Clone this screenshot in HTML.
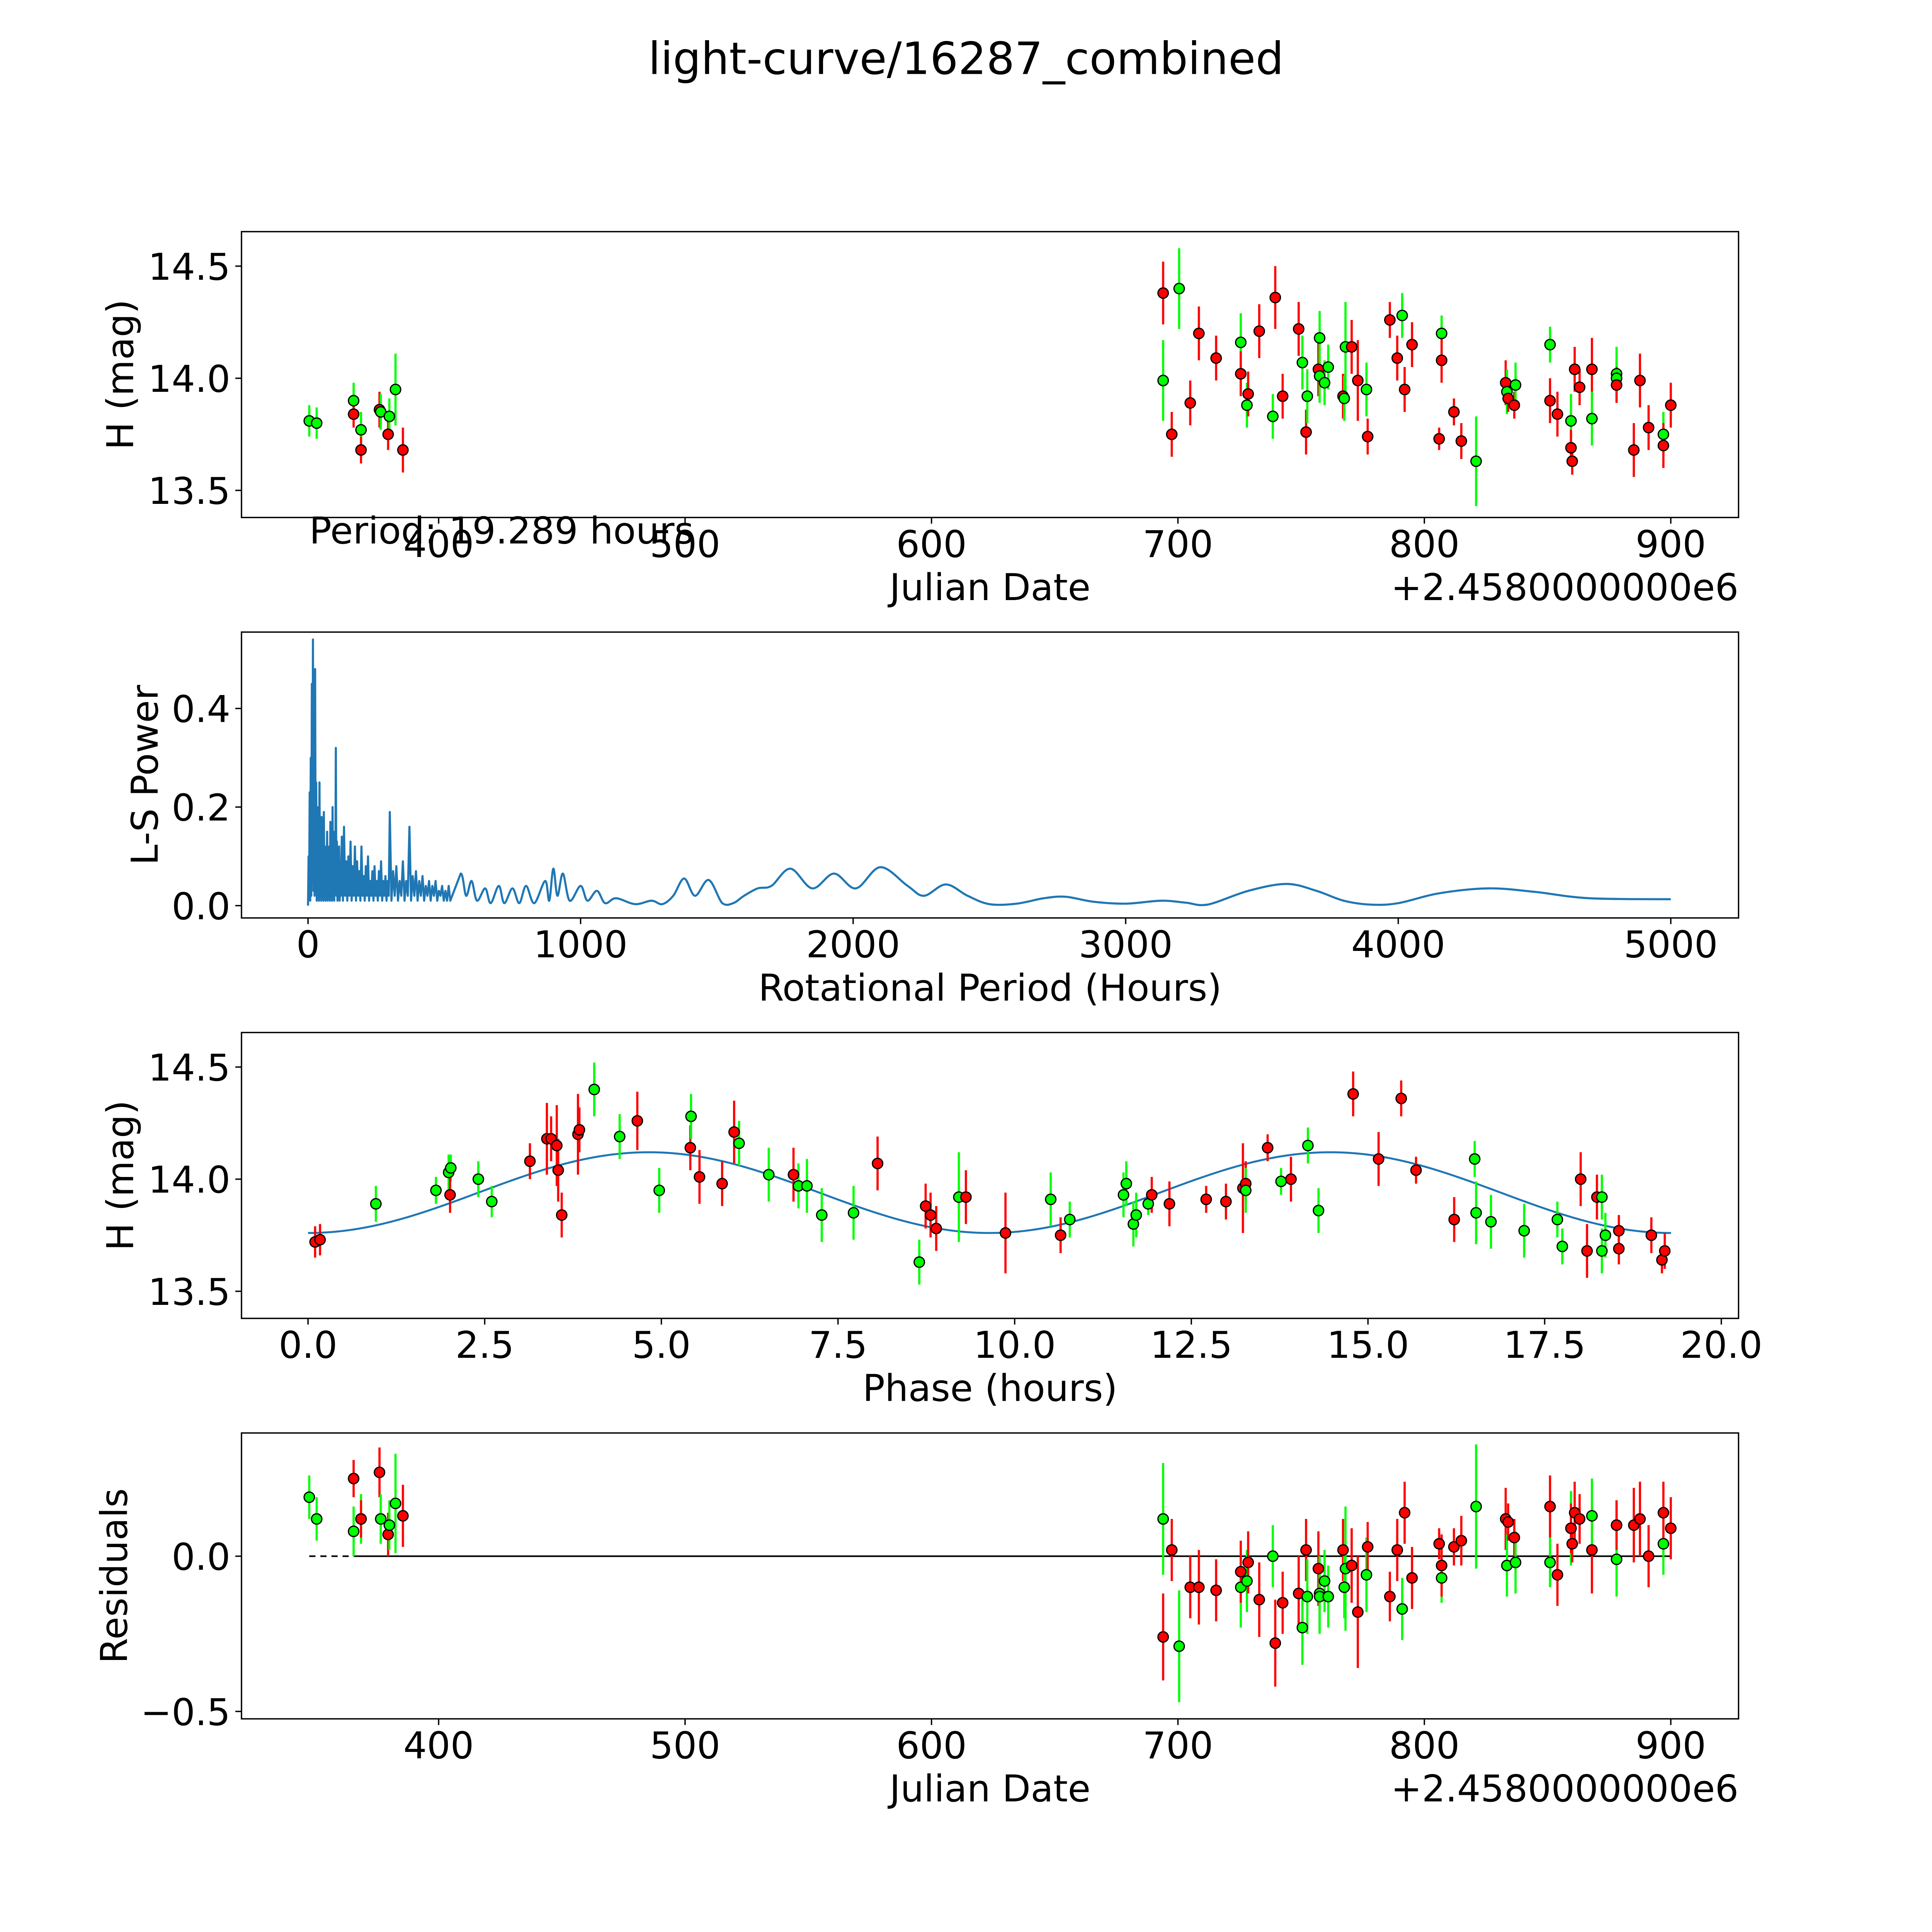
<!DOCTYPE html>
<html><head><meta charset="utf-8">
<style>html,body{margin:0;padding:0;background:#fff;overflow:hidden;width:100vw;height:100vh}svg{display:block;width:100vw;height:100vh}text{font-family:"DejaVu Sans","Liberation Sans",sans-serif;fill:#000}</style>
</head><body>
<svg id="fig" xmlns="http://www.w3.org/2000/svg" viewBox="0 0 1568 1568" preserveAspectRatio="xMidYMid meet">
<rect width="1568" height="1568" fill="#fff"/>
</svg>
<script>
// ---- data ----
const obsDates=[347.5,350.5,365.5,365.5,368.5,368.5,376,376.5,379.5,380,382.5,385.5,694,694,697.5,700.5,705,708.5,715.5,725.5,725.5,728,728.5,733,738.5,739.5,742.5,749,750.5,752,752.5,757,757.5,757.5,759.5,761,767,767.5,768,770.5,773,776.5,777,786,789,791,792,795,806,807,807,812,815,821,833,833.5,834,836.5,837,851,851,854,859.5,859.5,860,861,863,868,868,878,878,878,885,887.5,891,897,897,900];
const obsMags=[13.81,13.80,13.90,13.84,13.77,13.68,13.86,13.85,13.75,13.83,13.95,13.68,13.99,14.38,13.75,14.40,13.89,14.20,14.09,14.16,14.02,13.88,13.93,14.21,13.83,14.36,13.92,14.22,14.07,13.76,13.92,14.04,14.18,14.01,13.98,14.05,13.92,13.91,14.14,14.14,13.99,13.95,13.74,14.26,14.09,14.28,13.95,14.15,13.73,14.20,14.08,13.85,13.72,13.63,13.98,13.94,13.91,13.88,13.97,14.15,13.90,13.84,13.81,13.69,13.63,14.04,13.96,14.04,13.82,14.02,14.00,13.97,13.68,13.99,13.78,13.75,13.70,13.88];
const obsErrs=[.07,.07,.08,.06,.08,.06,.08,.08,.07,.08,.16,.1,.18,.14,.1,.18,.1,.12,.1,.13,.1,.1,.1,.12,.1,.14,.1,.12,.12,.1,.12,.12,.12,.12,.1,.1,.1,.1,.2,.12,.18,.12,.08,.08,.1,.1,.1,.1,.05,.08,.1,.06,.08,.2,.1,.1,.06,.06,.1,.08,.1,.1,.12,.08,.06,.1,.08,.14,.12,.12,.08,.08,.12,.12,.1,.1,.1,.1];
const obsColors="gggrgrrgrggrgrrgrrrgrgrrgrrrgrgrggggrggrrgrrrgrrrgrrrgrgrrggrrgrrrrrgggrrrrgrr".split("");
const residuals=[.19,.12,.08,.25,.12,.12,.27,.12,.07,.10,.17,.13,.12,-.26,.02,-.29,-.10,-.10,-.11,-.10,-.05,-.08,-.02,-.14,0,-.28,-.15,-.12,-.23,.02,-.13,-.04,-.12,-.13,-.08,-.13,.02,-.10,-.04,-.03,-.18,-.06,.03,-.13,.02,-.17,.14,-.07,.04,-.07,-.03,.03,.05,.16,.12,-.03,.11,.06,-.02,-.02,.16,-.06,.09,.09,.04,.14,.12,.02,.13,-.01,.10,.10,.10,.12,0,.04,.14,.09];
const phaseVals=[0.10,0.17,0.96,1.81,1.99,2.02,2.01,2.41,2.60,3.14,3.38,3.44,3.52,3.54,3.59,3.82,3.84,4.05,4.41,4.66,4.97,5.41,5.42,5.54,5.86,6.03,6.10,6.52,6.87,6.94,7.06,7.27,7.72,8.06,8.65,8.74,8.81,8.89,9.21,9.31,9.87,10.51,10.65,10.78,11.54,11.58,11.68,11.72,11.89,11.94,12.19,12.71,12.99,13.23,13.27,13.27,13.58,13.77,13.91,14.15,14.30,14.79,15.15,15.47,15.68,16.22,16.51,16.53,16.74,17.21,17.68,17.75,18.01,18.10,18.24,18.31,18.31,18.36,18.55,18.55,19.01,19.16,19.20];
const phaseMags=[13.72,13.73,13.89,13.95,14.03,14.05,13.93,14.00,13.90,14.08,14.18,14.18,14.15,14.04,13.84,14.20,14.22,14.40,14.19,14.26,13.95,14.14,14.28,14.01,13.98,14.21,14.16,14.02,14.02,13.97,13.97,13.84,13.85,14.07,13.63,13.88,13.84,13.78,13.92,13.92,13.76,13.91,13.75,13.82,13.93,13.98,13.80,13.84,13.89,13.93,13.89,13.91,13.90,13.96,13.98,13.95,14.14,13.99,14.00,14.15,13.86,14.38,14.09,14.36,14.04,13.82,14.09,13.85,13.81,13.77,13.82,13.70,14.00,13.68,13.92,13.92,13.68,13.75,13.77,13.69,13.75,13.64,13.68];
const phaseColors="rrggggrggrrrrrrrrggrgrgrrrggrggggrgrrrgrrgrggggggrrrrrrgrgrggrrrrrggggggrrrgggrrrrrr".split("");
const phaseErrs=phaseVals.map((_,i)=>obsErrs[i%obsErrs.length]);
const lsPeriods=[0,2,4,6,8,10,12,14,16,18,20,22,24,26,28,30,32,34,36,38,40,42,44,46,48,50,52,54,56,58,60,62,64,66,68,70,72,74,76,78,80,82,84,86,88,90,92,94,96,98,100,102,104,106,108,110,112,114,116,118,120,
124,128,132,136,140,144,148,152,156,160,164,168,172,176,180,184,188,192,196,200,204,208,212,216,220,224,228,232,236,240,244,248,252,256,260,264,268,272,276,280,284,288,292,296,300,
306,312,318,324,330,336,342,348,354,360,366,372,378,384,390,396,402,408,414,420,426,432,438,444,450,456,462,468,474,480,486,492,498,504,510,516,522,
560,580,600,620,650,670,700,720,750,775,800,830,870,885,900,915,935,960,1000,1025,1060,1090,1130,1200,1260,1300,1340,1380,1420,1470,1520,1560,1600,1650,1700,1770,1850,1930,2010,2100,2200,2260,2340,2420,2500,2600,2700,2780,2880,3000,3130,3220,3300,3450,3590,3700,3800,3900,4000,4150,4330,4500,4700,5000];
const lsPower=[0,0.1,0.02,0.23,0.01,0.3,0.02,0.45,0.05,0.54,0.03,0.2,0.02,0.48,0.03,0.25,0.01,0.2,0.02,0.15,0.01,0.25,0.02,0.12,0.01,0.18,0.02,0.1,0.01,0.19,0.02,0.12,0.01,0.1,0.02,0.15,0.01,0.08,0.02,0.12,0.01,0.17,0.02,0.1,0.01,0.2,0.02,0.12,0.01,0.15,0.03,0.32,0.02,0.13,0.01,0.09,0.02,0.12,0.01,0.08,0.02,
0.14,0.01,0.16,0.02,0.09,0.01,0.1,0.02,0.13,0.01,0.08,0.02,0.12,0.01,0.09,0.02,0.07,0.01,0.12,0.02,0.06,0.01,0.08,0.02,0.1,0.01,0.05,0.02,0.07,0.01,0.08,0.02,0.05,0.01,0.07,0.02,0.09,0.01,0.05,0.02,0.06,0.01,0.05,0.02,0.19,
0.01,0.07,0.02,0.08,0.01,0.05,0.02,0.09,0.01,0.05,0.02,0.16,0.01,0.06,0.02,0.07,0.01,0.05,0.02,0.06,0.01,0.04,0.02,0.05,0.01,0.04,0.02,0.05,0.01,0.03,0.02,0.04,0.01,0.03,0.01,0.04,0.01,
0.065,0.02,0.05,0.01,0.035,0.005,0.04,0.005,0.035,0.005,0.04,0.005,0.05,0.01,0.075,0.02,0.065,0.01,0.04,0.01,0.03,0.005,0.015,0.003,0.01,0.003,0.02,0.055,0.02,0.052,0.005,0.005,0.02,0.035,0.04,0.075,0.035,0.065,0.035,0.078,0.04,0.02,0.043,0.02,0.003,0.004,0.015,0.018,0.008,0.004,0.01,0.006,0.002,0.03,0.044,0.03,0.01,0.002,0.005,0.025,0.035,0.028,0.015,0.013];
const modelMean=[13.94], modelAmp=[0.18], modelPeriod=[19.289];
const jdTicks=[400,500,600,700,800,900];
const magTicks=[13.5,14.0,14.5];
const lsXTicks=[0,1000,2000,3000,4000,5000];
const lsYTicks=[0.0,0.2,0.4];
const phaseTicks=[0,2.5,5,7.5,10,12.5,15,17.5,20];
const resTicks=[-0.5,0.0];

const svg=document.getElementById('fig');
const NS='http://www.w3.org/2000/svg';
function mk(tag,attrs,parent){const e=document.createElementNS(NS,tag);for(const k in attrs)e.setAttribute(k,attrs[k]);(parent||svg).appendChild(e);return e;}
function txt(s,x,y,size,anchor,parent){const t=mk('text',{x:x,y:y,'font-size':size,'text-anchor':anchor||'middle'},parent);t.textContent=s;return t;}
function lin(d0,d1,p0,p1){return v=>p0+(v-d0)*(p1-p0)/(d1-d0);}
const FS=30;

const title=txt('light-curve/16287_combined',784,60,36);



function axes(name,L,T,R,B,sx,sy,xt,yt,xfmt,yfmt,xlabel,ylabel,ylx){
  const g=mk('g',{});
  
  
  const fr=mk('rect',{x:L,y:T,width:R-L,height:B-T,fill:'none',stroke:'#000','stroke-width':1.1},g);
  
  
  xt.forEach(v=>{const x=sx(v);mk('line',{x1:x,x2:x,y1:B,y2:B+5,stroke:'#000','stroke-width':1.1},g);
    const t=txt(xfmt(v),x,B+32,FS,'middle',g);
    
    });
  yt.forEach(v=>{const y=sy(v);mk('line',{x1:L-5,x2:L,y1:y,y2:y,stroke:'#000','stroke-width':1.1},g);
    const t=txt(yfmt(v),L-9,y+11,FS,'end',g);
    
    });
  const xl=txt(xlabel,(L+R)/2,B+67,FS,'middle',g);
  
  
  const yl=txt(ylabel,0,0,FS,'middle',g);
  yl.setAttribute('transform',`translate(${ylx},${(T+B)/2}) rotate(-90)`);
  
  
  return g;
}
function points(g,xs,ys,errs,cols,sx,sy){
  xs.forEach((xv,i)=>{const c=cols[i]==='g'?'#00ff00':'#ff0000';const x=sx(xv);
    const eb=mk('line',{x1:x,x2:x,y1:sy(ys[i]-errs[i]),y2:sy(ys[i]+errs[i]),stroke:c,'stroke-width':1.8},g);
    
    });
  xs.forEach((xv,i)=>{const c=cols[i]==='g'?'#00ff00':'#ff0000';
    const p=mk('circle',{cx:sx(xv),cy:sy(ys[i]),r:4.2,fill:c,stroke:'#000','stroke-width':1},g);
    
    });
}
const f1=v=>v.toFixed(1), f0=v=>String(v);

// panel 1
const sx1=lin(400,900,356,1356), sy1=lin(14.0,14.5,307,216);
const g1=axes('light-curve-panel',196,188,1411,420,sx1,sy1,jdTicks,magTicks,f0,f1,'Julian Date','H (mag)',108);
points(g1,obsDates,obsMags,obsErrs,obsColors,sx1,sy1);
const per=txt('Period: 19.289 hours',251,441,FS,'start');


const off1=txt('+2.4580000000e6',1411,487,FS,'end');



// panel 2
const sx2=lin(0,5000,250,1356), sy2=lin(0,0.4,735,575);
const g2=axes('periodogram-panel',196,513,1411,745,sx2,sy2,lsXTicks,lsYTicks,f0,f1,'Rotational Period (Hours)','L-S Power',128);
const P=lsPeriods.map((p,i)=>[sx2(p),sy2(lsPower[i])]);
let d='M'+P[0][0]+','+P[0][1];
for(let i=0;i<P.length-1;i++){const p0=P[Math.max(0,i-1)],p1=P[i],p2=P[i+1],p3=P[Math.min(P.length-1,i+2)];
  if(lsPeriods[i]<540){d+=' L'+p2[0]+','+p2[1];continue;}
  const c1=[p1[0]+(p2[0]-p0[0])/6,p1[1]+(p2[1]-p0[1])/6],c2=[p2[0]-(p3[0]-p1[0])/6,p2[1]-(p3[1]-p1[1])/6];
  d+=` C${c1[0]},${Math.min(c1[1],735.5)} ${c2[0]},${Math.min(c2[1],735.5)} ${p2[0]},${p2[1]}`;}
const ls=mk('path',{d:d,fill:'none',stroke:'#1f77b4','stroke-width':1.7,'stroke-linejoin':'round'},g2);



// panel 3
const sx3=lin(0,20,250,1397), sy3=lin(14.0,14.5,957,866);
const g3=axes('phase-panel',196,838,1411,1070,sx3,sy3,phaseTicks,magTicks,f1,f1,'Phase (hours)','H (mag)',108);
const mpts=[];for(let t=0;t<=modelPeriod[0]+1e-9;t+=modelPeriod[0]/300){mpts.push(sx3(t)+','+sy3(modelMean[0]-modelAmp[0]*Math.cos(4*Math.PI*t/modelPeriod[0])));}
const ml=mk('polyline',{points:mpts.join(' '),fill:'none',stroke:'#1f77b4','stroke-width':1.6},g3);


points(g3,phaseVals,phaseMags,phaseErrs,phaseColors,sx3,sy3);

// panel 4
const sx4=sx1, sy4=lin(0,-0.5,1263,1389);
const g4=axes('residuals-panel',196,1163,1411,1395,sx4,sy4,jdTicks,resTicks,f0,v=>(v<0?'\u22120.5':'0.0'),'Julian Date','Residuals',103);
const z1=mk('line',{x1:sx4(347.5),x2:sx4(367),y1:sy4(0),y2:sy4(0),stroke:'#000','stroke-width':1.3,'stroke-dasharray':'5,4'},g4);


const z2=mk('line',{x1:sx4(367),x2:sx4(900),y1:sy4(0),y2:sy4(0),stroke:'#000','stroke-width':1.3},g4);


points(g4,obsDates,residuals,obsErrs,obsColors,sx4,sy4);
const off4=txt('+2.4580000000e6',1411,1462,FS,'end');


</script>
</body></html>
